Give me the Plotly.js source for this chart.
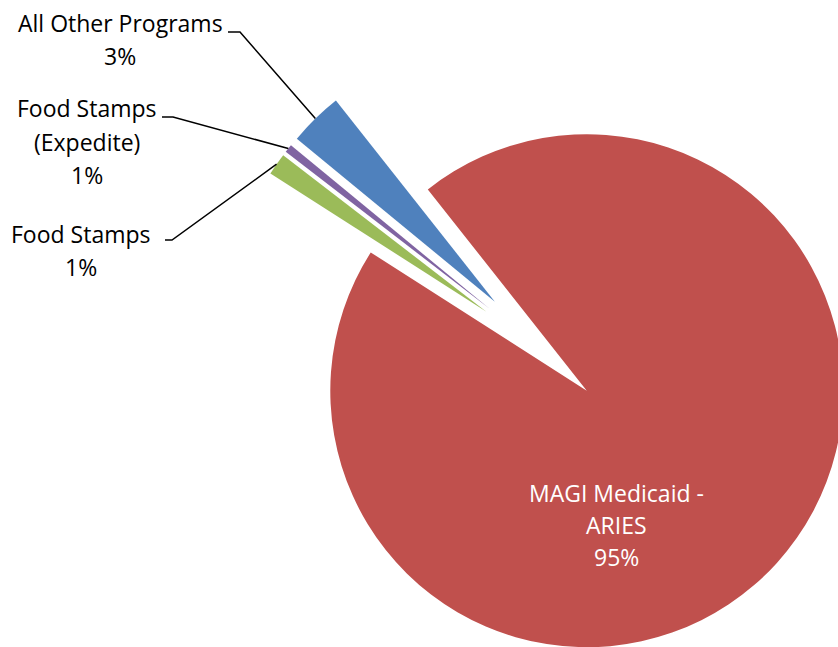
<!DOCTYPE html>
<html>
<head>
<meta charset="utf-8">
<script src="https://cdn.plot.ly/plotly-3.0.1.min.js"></script>
<style>
html, body { margin: 0; padding: 0; overflow: hidden; background: #ffffff; }
#chart { width: 900px; height: 700px; }
</style>
</head>
<body>
<div id="chart"></div>
<script>
// ---- data ----
const categories = ['MAGI Medicaid - ARIES', 'Food Stamps', 'Food Stamps (Expedite)', 'All Other Programs'];
const values = [94.7, 1.38, 0.52, 3.4];
const colors = ['#C0504D', '#9BBB59', '#8064A2', '#4F81BD'];
const pulls = [0.22, 0.279, 0.279, 0.279];

// ---- layout geometry (paper bigger than window; window crops it) ----
const W = 900, H = 700;
const domX = [0.2410, 0.9700];
const domY = [0.02729, 0.96457];
const rotation = -38.3;

const total = values.reduce((a, b) => a + b, 0);
const pct = values.map(v => Math.round(v / total * 100) + '%');

// replicate plotly's pie geometry to attach leader lines
const maxPull = Math.max(...pulls);
const rx = W * (domX[1] - domX[0]) / 2, ry = H * (domY[1] - domY[0]) / 2;
const R = Math.min(rx, ry) / (1 + maxPull);
const CX = W * (domX[0] + domX[1]) / 2;
const CY = H * (1 - (domY[0] + domY[1]) / 2);
const outerMid = [];
let cum = 0;
for (let i = 0; i < values.length; i++) {
  const a0 = rotation * Math.PI / 180 + cum / total * 2 * Math.PI;
  cum += values[i];
  const a1 = rotation * Math.PI / 180 + cum / total * 2 * Math.PI;
  const m = (a0 + a1) / 2;
  const ux = Math.sin(m), uy = -Math.cos(m);
  const k = (1 + pulls[i]) * R;
  outerMid.push([CX + k * ux, CY + k * uy]);
}
const px = x => x / W, py = y => 1 - y / H;

const font = { family: '"Open Sans", "Noto Sans", sans-serif', size: 23, color: '#000000' };
const wfont = { family: '"Open Sans", "Noto Sans", sans-serif', size: 23, color: '#ffffff' };

// label placements in pixels
const labelSpots = [
  { i: 3, lines: ['All Other Programs', pct[3]], x: 120, y: 23, gap: 33, a: [228, 32], b: [240, 32] },
  { i: 2, lines: ['Food Stamps', '(Expedite)', pct[2]], x: 87, y: 108, gap: 33.5, a: [162, 117], b: [173, 117] },
  { i: 1, lines: ['Food Stamps', pct[1]], x: 81, y: 234, gap: 33, a: [165, 240], b: [172, 240] }
];

const annotations = [];
const shapes = [];
labelSpots.forEach(s => {
  s.lines.forEach((t, k) => {
    annotations.push({ text: t, x: px(s.x), y: py(s.y + k * s.gap), xref: 'paper', yref: 'paper',
      showarrow: false, xanchor: 'center', yanchor: 'middle', font: font });
  });
  const e = outerMid[s.i];
  shapes.push({ type: 'path', xref: 'paper', yref: 'paper',
    path: `M ${px(s.a[0])} ${py(s.a[1])} L ${px(s.b[0])} ${py(s.b[1])} L ${px(e[0])} ${py(e[1])}`,
    line: { color: '#000000', width: 1.5 } });
});
['MAGI Medicaid -', 'ARIES', pct[0]].forEach((t, k) => {
  annotations.push({ text: t, x: px(616), y: py(493 + k * 32), xref: 'paper', yref: 'paper',
    showarrow: false, xanchor: 'center', yanchor: 'middle', font: wfont });
});

const trace = {
  type: 'pie',
  labels: categories,
  values: values,
  marker: { colors: colors, line: { width: 0 } },
  pull: pulls,
  sort: false,
  direction: 'clockwise',
  rotation: rotation,
  textinfo: 'none',
  hoverinfo: 'label+percent',
  showlegend: false,
  domain: { x: domX, y: domY }
};

Plotly.newPlot('chart', [trace], {
  width: W, height: H,
  margin: { l: 0, r: 0, t: 0, b: 0 },
  paper_bgcolor: '#ffffff',
  showlegend: false,
  annotations: annotations,
  shapes: shapes
}, { displayModeBar: false, staticPlot: true });
</script>
</body>
</html>
